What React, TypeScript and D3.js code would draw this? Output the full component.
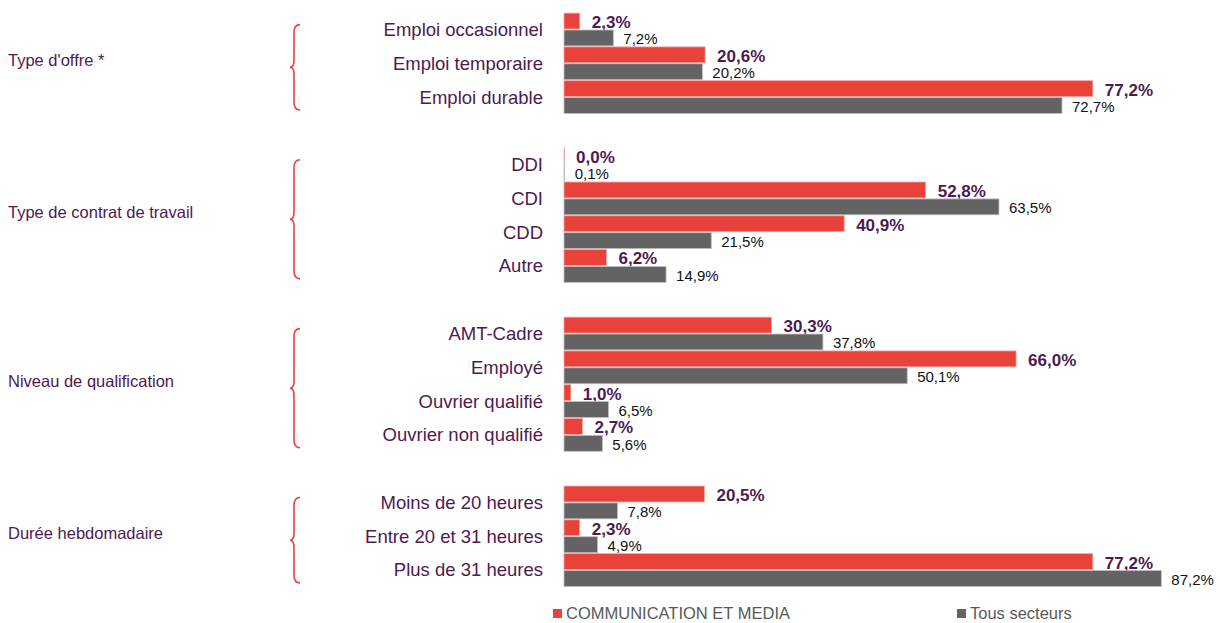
import * as d3 from "d3";

const width = 1220;
const height = 623;

const groups = [
  "Type d'offre *",
  "Type de contrat de travail",
  "Niveau de qualification",
  "Durée hebdomadaire",
];
const groupCategories = [
  ["Emploi occasionnel", "Emploi temporaire", "Emploi durable"],
  ["DDI", "CDI", "CDD", "Autre"],
  ["AMT-Cadre", "Employé", "Ouvrier qualifié", "Ouvrier non qualifié"],
  ["Moins de 20 heures", "Entre 20 et 31 heures", "Plus de 31 heures"],
];
const commValues = [
  [2.3, 20.6, 77.2],
  [0.0, 52.8, 40.9, 6.2],
  [30.3, 66.0, 1.0, 2.7],
  [20.5, 2.3, 77.2],
];
const tousValues = [
  [7.2, 20.2, 72.7],
  [0.1, 63.5, 21.5, 14.9],
  [37.8, 50.1, 6.5, 5.6],
  [7.8, 4.9, 87.2],
];
const seriesNames = ["COMMUNICATION ET MEDIA", "Tous secteurs"];
const seriesColors = ["#E8423B", "#636363"];
const seriesStroke = ["#F4A7A2", "#BDBDBD"];

const purple = "#4D1A52";
const fmt = (v: number) => v.toFixed(1).replace(".", ",") + "%";

// one slot per category, plus a blank slot between groups
const slots: string[] = [];
groupCategories.forEach((cats, gi) => {
  if (gi > 0) slots.push(`gap-${gi}`);
  cats.forEach((c) => slots.push(c));
});

const y = d3.scaleBand<string>().domain(slots).range([12.6, 586.9]).padding(0);
const inner = d3.scaleBand<number>().domain([0, 1]).range([0, y.bandwidth()]).paddingInner(0.06).paddingOuter(0.03);
const x = d3.scaleLinear().domain([0, 100]).range([564, 564 + 685]);

const brace = (x0: number, y0: number, y1: number) => {
  const m = (y0 + y1) / 2;
  const w = 8;
  return `M${x0 + w},${y0} Q${x0 + 2},${y0} ${x0 + 2},${y0 + 8} L${x0 + 2},${m - 7} Q${x0 + 2},${m} ${x0 - 2},${m} Q${x0 + 2},${m} ${x0 + 2},${m + 7} L${x0 + 2},${y1 - 8} Q${x0 + 2},${y1} ${x0 + w},${y1}`;
};

const App = () => {
  const font = "'Liberation Sans', Arial, sans-serif";
  return (
    <svg width={width} height={height} style={{ position: "absolute", left: 0, top: 0 }} fontFamily={font}>
      <rect width={width} height={height} fill="#fff" />
      {groupCategories.map((cats, gi) => {
        const top = y(cats[0])!;
        const bottom = y(cats[cats.length - 1])! + y.bandwidth();
        const mid = (top + bottom) / 2;
        return (
          <g key={gi}>
            <text x={8} y={mid - 3} dy="0.35em" fontSize={16.5} fill={purple}>
              {groups[gi]}
            </text>
            <path d={brace(292, top + 12, bottom - 4)} fill="none" stroke="#E8423B" strokeWidth={1.6} />
            {cats.map((c, ci) => {
              const y0 = y(c)!;
              const vals = [commValues[gi][ci], tousValues[gi][ci]];
              return (
                <g key={c}>
                  <text x={543} y={y0 + y.bandwidth() / 2} dy="0.35em" textAnchor="end" fontSize={18.5} fill={purple}>
                    {c}
                  </text>
                  {vals.map((v, si) => {
                    const by = y0 + inner(si)!;
                    const bw = x(v) - x(0);
                    return (
                      <g key={si}>
                        <rect
                          x={x(0)}
                          y={by}
                          width={Math.max(bw, 0.5)}
                          height={inner.bandwidth()}
                          fill={seriesColors[si]}
                          stroke={seriesStroke[si]}
                          strokeWidth={0.8}
                        />
                        <text
                          x={x(v) + (si === 0 ? 12 : 10)}
                          y={by + inner.bandwidth() / 2 + 1}
                          dy="0.35em"
                          fontSize={si === 0 ? 17 : 15}
                          fontWeight={si === 0 ? "bold" : "normal"}
                          fill={si === 0 ? purple : "#111"}
                        >
                          {fmt(v)}
                        </text>
                      </g>
                    );
                  })}
                </g>
              );
            })}
          </g>
        );
      })}
      {seriesNames.map((s, si) => {
        const lx = si === 0 ? 553 : 957;
        return (
          <g key={s}>
            <rect x={lx} y={609} width={9} height={9} fill={seriesColors[si]} />
            <text x={lx + 13} y={613.5} dy="0.35em" fontSize={16.5} fill="#595959">
              {s}
            </text>
          </g>
        );
      })}
    </svg>
  );
};

export default App;
